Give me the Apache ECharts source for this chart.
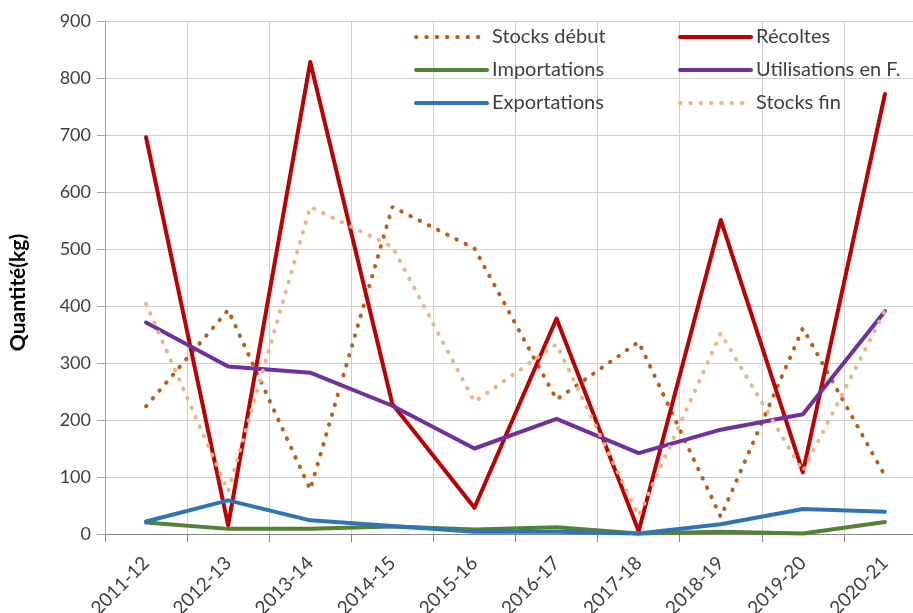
<!DOCTYPE html>
<html>
<head>
<meta charset="utf-8">
<script src="https://cdn.jsdelivr.net/npm/echarts@6/dist/echarts.min.js"></script>
<style>html,body{margin:0;padding:0;background:#fff;}#c{width:913px;height:613px;}</style>
</head>
<body>
<div id="c"></div>
<script>
const categories = ['2011-12','2012-13','2013-14','2014-15','2015-16','2016-17','2017-18','2018-19','2019-20','2020-21'];
const stocksDebut = [224, 393, 78, 574, 501, 236, 337, 30, 361, 102];
const recoltes = [696, 15, 828, 228, 46, 378, 5, 551, 108, 772];
const importations = [20, 9, 9, 13, 8, 12, 1, 4, 1, 21];
const utilisations = [371, 294, 283, 225, 150, 202, 142, 183, 210, 391];
const exportations = [22, 59, 24, 14, 4, 4, 1, 17, 44, 39];
const stocksFin = [404, 75, 574, 504, 232, 333, 32, 352, 110, 392];
const yMin = 0, yMax = 900, yStep = 100;

const FONT = 'Lato';
const chart = echarts.init(document.getElementById('c'), null, {renderer: 'canvas'});
function solid(name, data, color) {
  return {name, type: 'line', data, symbol: 'none', showSymbol: false,
    lineStyle: {color, width: 4, cap: 'round', join: 'round'}, itemStyle: {color}, z: 2};
}
function dotted(name, data, color) {
  return {name, type: 'line', data, symbol: 'none', showSymbol: false,
    lineStyle: {color, width: 4, type: [0.5, 9.8], cap: 'round'}, itemStyle: {color}, z: 2};
}
const legendText = {fontFamily: FONT, fontSize: 20, color: '#404040', lineHeight: 20};
const legendCommon = {orient: 'vertical', top: 27, padding: 0, itemWidth: 71, itemHeight: 14, itemGap: 13,
  textStyle: legendText, itemStyle: {opacity: 0}, lineStyle: {width: 4}};
chart.setOption({
  animation: false,
  backgroundColor: '#fff',
  grid: {left: 105, top: 21, width: 821, height: 513, containLabel: false, outerBoundsMode: 'none'},
  legend: [
    Object.assign({data: ['Stocks début', 'Importations', 'Exportations'], left: 414}, legendCommon),
    Object.assign({data: ['Récoltes', 'Utilisations en F.', 'Stocks fin'], left: 678}, legendCommon)
  ],
  xAxis: {
    type: 'category', data: categories, boundaryGap: true,
    axisLine: {lineStyle: {color: '#868686', width: 1}},
    axisTick: {show: true, length: 8, lineStyle: {color: '#868686'}},
    splitLine: {show: true, lineStyle: {color: '#d0d0d0', width: 1}},
    axisLabel: {rotate: 45, margin: 26, fontFamily: FONT, fontSize: 19, color: '#404040'}
  },
  yAxis: {
    type: 'value', min: yMin, max: yMax, interval: yStep,
    name: 'Quantité(kg)', nameLocation: 'middle', nameGap: 76,
    nameTextStyle: {fontFamily: FONT, fontSize: 21, fontWeight: 'bold', color: '#000', padding: [0, 30, 0, 0]},
    axisLine: {show: true, lineStyle: {color: '#a6a6a6'}},
    axisTick: {show: true, length: 8, lineStyle: {color: '#a6a6a6'}},
    splitLine: {show: true, lineStyle: {color: '#d0d0d0', width: 1}},
    axisLabel: {margin: 14, fontFamily: FONT, fontSize: 18, color: '#404040'}
  },
  series: [
    dotted('Stocks début', stocksDebut, '#C55A11'),
    solid('Récoltes', recoltes, '#C00000'),
    solid('Importations', importations, '#548235'),
    solid('Utilisations en F.', utilisations, '#7030A0'),
    solid('Exportations', exportations, '#2E75B6'),
    dotted('Stocks fin', stocksFin, '#F4B183')
  ]
});
</script>
</body>
</html>
